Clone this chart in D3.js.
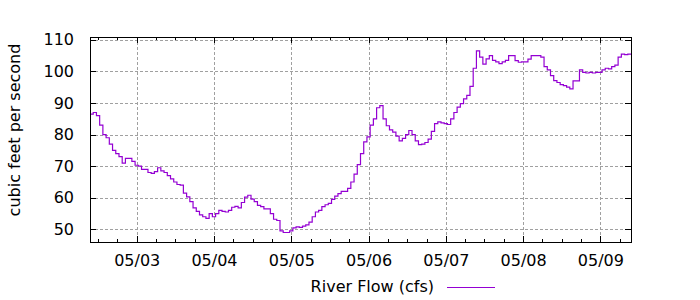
<!DOCTYPE html>
<html>
<head>
<meta charset="utf-8">
<script src="https://cdn.jsdelivr.net/npm/d3@7"></script>
<style>
  html, body { margin: 0; padding: 0; background: #fff; }
  svg { display: block; font-family: "DejaVu Sans", sans-serif; }
</style>
</head>
<body>
<svg id="chart" width="700" height="300"></svg>
<script>
// hourly river flow readings (cfs), first reading 05/02 09:30
const flowStart = "2024-05-02T09:30:00Z";
const flowEnd = "2024-05-09T09:30:00Z";
const flowValues = [
  86.5, 87, 86, 83, 80, 79, 77, 75, 74, 73,
  71, 72.5, 72.5, 71.5, 70.3, 70, 69, 69, 68, 67.7,
  68.3, 69.5, 68.5, 68, 67, 66, 65, 64.2, 64, 61.5,
  60.3, 58.8, 56.8, 55.7, 54.6, 54, 53.5, 55, 54, 55,
  56, 55.7, 55.5, 56, 57, 57.3, 56.8, 58.5, 60.2, 60.8,
  59.6, 58.8, 57.6, 57.2, 56.5, 56.5, 55, 53.2, 52.8, 49.5,
  49, 49, 49.5, 50.5, 50.8, 50.6, 51, 51.4, 52.3, 54,
  55.5, 56, 57.2, 57.8, 58.2, 59.5, 60.5, 61.3, 62, 62,
  63, 65, 67.5, 70.5, 74, 77.7, 79.3, 83, 85, 88.5,
  89.2, 85, 82.8, 81.5, 80.8, 79.5, 78, 78.8, 80, 81.3,
  80, 78, 76.8, 77, 77.5, 78.6, 81, 83.5, 84, 83.7,
  83.5, 83.2, 85, 87, 88.7, 89.8, 91.3, 92.4, 95.3, 101,
  106.5, 104.5, 102.3, 104, 105, 103.5, 103, 102.5, 103, 103.5,
  105, 105, 103.4, 102.9, 103, 103, 103.9, 105, 105, 105,
  104.5, 101.5, 100.5, 98.7, 97.1, 96.5, 95.8, 95.5, 95, 94.5,
  97, 97, 100.5, 99.7, 99.5, 99.7, 99.5, 99.7, 99.7, 100.5,
  101, 100.8, 101.5, 102, 104.5, 105.5, 105.3, 105.5, 105.5
];
const yTicks = [50, 60, 70, 80, 90, 100, 110];
const yLabel = "cubic feet per second";
const seriesName = "River Flow (cfs)";

const plot = { left: 90, right: 631, top: 37, bottom: 242 };
const lineColor = "#9400d3";
const gridColor = "#a0a0a0";

const svg = d3.select("#chart");

const start = new Date(flowStart);
const data = flowValues.map((v, i) => ({ t: d3.utcHour.offset(start, i), v: v }));

const x = d3.scaleUtc()
  .domain([start, new Date(flowEnd)])
  .range([plot.left, plot.right]);

const y = d3.scaleLinear()
  .domain([46, 110.9])
  .range([plot.bottom, plot.top]);

const dayTicks = x.ticks(d3.utcDay.every(1));
const minorTicks = x.ticks(d3.utcHour.every(6));

// grid
const grid = svg.append("g")
  .attr("stroke", gridColor)
  .attr("stroke-width", 1)
  .attr("stroke-dasharray", "3,2")
  .attr("shape-rendering", "crispEdges");

grid.selectAll(".gx")
  .data(dayTicks)
  .enter()
  .append("line")
  .attr("x1", d => Math.round(x(d)) + 0.5)
  .attr("x2", d => Math.round(x(d)) + 0.5)
  .attr("y1", plot.top)
  .attr("y2", plot.bottom);

grid.selectAll(".gy")
  .data(yTicks)
  .enter()
  .append("line")
  .attr("x1", plot.left)
  .attr("x2", plot.right)
  .attr("y1", d => Math.round(y(d)) + 0.5)
  .attr("y2", d => Math.round(y(d)) + 0.5);

// minor ticks (6 hours), bottom and top
const minor = svg.append("g")
  .attr("stroke", "#000")
  .attr("shape-rendering", "crispEdges");
minor.selectAll(".mb")
  .data(minorTicks)
  .enter()
  .append("line")
  .attr("x1", d => Math.round(x(d)) + 0.5)
  .attr("x2", d => Math.round(x(d)) + 0.5)
  .attr("y1", plot.bottom)
  .attr("y2", plot.bottom - 3);
minor.selectAll(".mt")
  .data(minorTicks)
  .enter()
  .append("line")
  .attr("x1", d => Math.round(x(d)) + 0.5)
  .attr("x2", d => Math.round(x(d)) + 0.5)
  .attr("y1", plot.top)
  .attr("y2", plot.top + 3);

// axes
function styleAxis(g) {
  g.select(".domain").remove();
  g.selectAll(".tick line").attr("stroke", "#000").attr("shape-rendering", "crispEdges");
  g.selectAll(".tick text").attr("fill", "#000").style("font-size", "16px")
    .style("font-family", "'DejaVu Sans', sans-serif");
}

svg.append("g")
  .attr("transform", "translate(0," + plot.bottom + ")")
  .call(d3.axisBottom(x).tickValues(dayTicks).tickFormat(d3.utcFormat("%m/%d"))
    .tickSizeInner(-6).tickSizeOuter(0).tickPadding(13))
  .call(styleAxis);

svg.append("g")
  .attr("transform", "translate(0," + plot.top + ")")
  .call(d3.axisTop(x).tickValues(dayTicks).tickFormat("").tickSizeInner(-6).tickSizeOuter(0))
  .call(styleAxis);

svg.append("g")
  .attr("transform", "translate(" + plot.left + ",0)")
  .call(d3.axisLeft(y).tickValues(yTicks).tickSizeInner(-6).tickSizeOuter(0).tickPadding(16))
  .call(styleAxis);

svg.append("g")
  .attr("transform", "translate(" + plot.right + ",0)")
  .call(d3.axisRight(y).tickValues(yTicks).tickFormat("").tickSizeInner(-6).tickSizeOuter(0))
  .call(styleAxis);

// data line
const line = d3.line()
  .x(d => x(d.t))
  .y(d => y(d.v))
  .curve(d3.curveStepAfter);

svg.append("path")
  .datum(data)
  .attr("fill", "none")
  .attr("stroke", lineColor)
  .attr("stroke-width", 1.2)
  .attr("d", line);

// border
svg.append("rect")
  .attr("x", plot.left + 0.5)
  .attr("y", plot.top + 0.5)
  .attr("width", plot.right - plot.left)
  .attr("height", plot.bottom - plot.top)
  .attr("fill", "none")
  .attr("stroke", "#000")
  .attr("stroke-width", 1)
  .attr("shape-rendering", "crispEdges");

// y axis title
svg.append("text")
  .attr("transform", "translate(20,130) rotate(-90)")
  .attr("text-anchor", "middle")
  .style("font-size", "16px")
  .attr("fill", "#000")
  .text(yLabel);

// legend
svg.append("text")
  .attr("x", 434)
  .attr("y", 292)
  .attr("text-anchor", "end")
  .style("font-size", "16px")
  .attr("fill", "#000")
  .text(seriesName);

svg.append("line")
  .attr("x1", 447)
  .attr("x2", 495)
  .attr("y1", 287.5)
  .attr("y2", 287.5)
  .attr("stroke", lineColor)
  .attr("stroke-width", 1.2);
</script>
</body>
</html>
